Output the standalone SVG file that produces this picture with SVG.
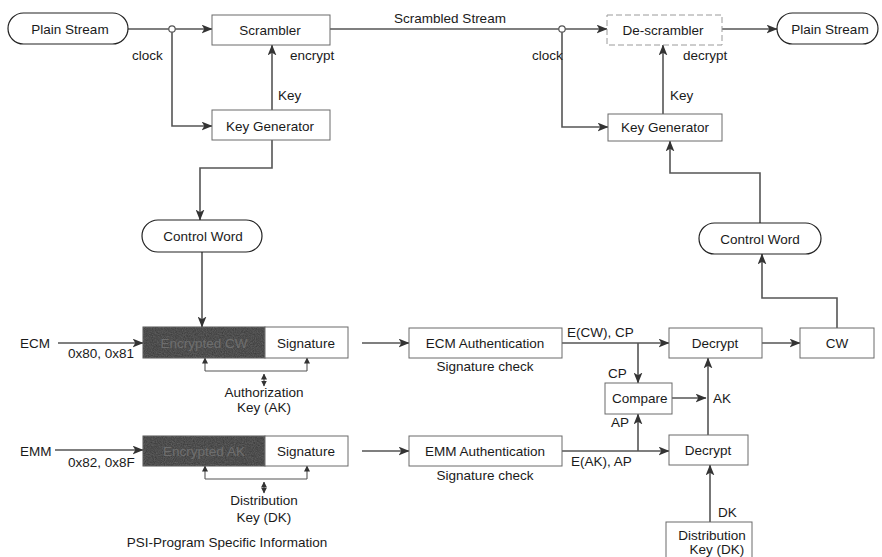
<svg xmlns="http://www.w3.org/2000/svg" width="882" height="557" viewBox="0 0 882 557">
  <defs>
    <marker id="arrow" viewBox="0 0 10 8" refX="9.5" refY="4" markerWidth="11" markerHeight="9" markerUnits="userSpaceOnUse" orient="auto">
      <path d="M0,0 L10,4 L0,8 L2.5,4 Z" fill="#333"/>
    </marker>
    <marker id="tick" viewBox="0 0 6 6" refX="5.5" refY="3" markerWidth="6" markerHeight="6" markerUnits="userSpaceOnUse" orient="auto-start-reverse">
      <path d="M0,0 L6,3 L0,6 Z" fill="#333"/>
    </marker>
    <filter id="grain" x="0" y="0" width="1" height="1">
      <feTurbulence type="fractalNoise" baseFrequency="0.9" numOctaves="2" seed="3" result="n"/>
      <feColorMatrix in="n" type="matrix" values="0 0 0 0 0.25  0 0 0 0 0.25  0 0 0 0 0.25  0 0 0 -1.2 1.1" result="g"/>
      <feComposite in="g" in2="SourceGraphic" operator="in"/>
    </filter>
  </defs>
  <style>
    text { font-family: "Liberation Sans", Arial, sans-serif; font-size: 13.5px; fill: #1a1a1a; }
    .c { text-anchor: middle; }
    .box { fill: #fff; stroke: #6a6a6a; stroke-width: 1; }
    .faint { fill: #fff; stroke: #9a9a9a; stroke-width: 1; stroke-dasharray: 6 3; }
    .pill { fill: #fff; stroke: #222; stroke-width: 1.2; }
    .dark { fill: #3a3a3a; stroke: #555; stroke-width: 1; }
    .darktext { fill: #6e6e6e; }
    .wire { fill: none; stroke: #555; stroke-width: 1.6; }
    .thin { fill: none; stroke: #555; stroke-width: 1.1; }
    .arr { marker-end: url(#arrow); }
    .tk { marker-end: url(#tick); }
    .tk2 { marker-start: url(#tick); marker-end: url(#tick); }
  </style>

  <rect width="882" height="557" fill="#fff"/>

  <!-- connectors -->
  <g id="connectors">
    <!-- scrambling side -->
    <path class="wire arr" d="M128,29 H212"/>
    <path class="wire arr" d="M330,29 H607"/>
    <path class="wire arr" d="M172,32 V126 H212"/>
    <path class="wire arr" d="M272,110 V45"/>
    <path class="wire arr" d="M272,140 V168 H200 V220"/>
    <path class="wire arr" d="M202,252 V327"/>
    <circle cx="172" cy="29" r="3.2" fill="#fff" stroke="#555" stroke-width="1.2"/>
    <!-- descrambling side -->
    <path class="wire arr" d="M722,29 H777"/>
    <path class="wire arr" d="M562,32 V127 H608"/>
    <path class="wire arr" d="M663,114 V45"/>
    <path class="wire arr" d="M760,223 V173 H670 V141"/>
    <path class="wire arr" d="M837,328 V298 H762 V254"/>
    <circle cx="562" cy="29" r="3.2" fill="#fff" stroke="#555" stroke-width="1.2"/>
    <!-- ECM path -->
    <path class="wire arr" d="M58,343 H143"/>
    <path class="wire arr" d="M362,343 H409"/>
    <path class="wire arr" d="M562,343 H669"/>
    <path class="wire arr" d="M638,343 V383"/>
    <path class="wire arr" d="M762,343 H800"/>
    <path class="thin tk" d="M205,371 V358"/>
    <path class="thin tk" d="M307,371 V358"/>
    <path class="thin" d="M205,371 H307"/>
    <path class="thin tk2" d="M264,374 V386"/>
    <!-- EMM path -->
    <path class="wire arr" d="M55,450 H143"/>
    <path class="wire arr" d="M362,451 H409"/>
    <path class="wire arr" d="M562,451 H669"/>
    <path class="wire arr" d="M638,451 V414"/>
    <path class="thin tk" d="M205,479 V466"/>
    <path class="thin tk" d="M307,479 V466"/>
    <path class="thin" d="M205,479 H307"/>
    <path class="thin tk2" d="M264,482 V493"/>
    <!-- key recovery -->
    <path class="wire arr" d="M672,398 H706"/>
    <path class="wire arr" d="M708,435 V358"/>
    <path class="wire arr" d="M710,522 V465"/>
  </g>

  <!-- connector labels -->
  <g id="labels">
    <text x="450" y="23" class="c">Scrambled Stream</text>
    <text x="132" y="60">clock</text>
    <text x="278" y="100">Key</text>
    <text x="290" y="60">encrypt</text>
    <text x="532" y="60">clock</text>
    <text x="670" y="100">Key</text>
    <text x="683" y="60">decrypt</text>
    <text x="20" y="348">ECM</text>
    <text x="68" y="358">0x80, 0x81</text>
    <text x="20" y="456">EMM</text>
    <text x="68" y="467">0x82, 0x8F</text>
    <text x="264" y="397" class="c">Authorization</text>
    <text x="264" y="412" class="c">Key (AK)</text>
    <text x="264" y="505" class="c">Distribution</text>
    <text x="264" y="522" class="c">Key (DK)</text>
    <text x="227" y="547" class="c">PSI-Program Specific Information</text>
    <text x="485" y="371" class="c">Signature check</text>
    <text x="485" y="480" class="c">Signature check</text>
    <text x="567" y="337">E(CW), CP</text>
    <text x="571" y="466">E(AK), AP</text>
    <text x="608" y="378">CP</text>
    <text x="611" y="427">AP</text>
    <text x="713" y="403">AK</text>
    <text x="718" y="517">DK</text>
  </g>

  <!-- nodes -->
  <g id="plain-stream-in">
    <rect class="pill" x="8" y="13" width="120" height="31" rx="15.5"/>
    <text x="70" y="34" class="c">Plain Stream</text>
  </g>
  <g id="scrambler">
    <rect class="box" x="212" y="15" width="118" height="30"/>
    <text x="270" y="35" class="c">Scrambler</text>
  </g>
  <g id="key-generator-tx">
    <rect class="box" x="212" y="110" width="118" height="30"/>
    <text x="270" y="131" class="c">Key Generator</text>
  </g>
  <g id="control-word-tx">
    <rect class="pill" x="142" y="220" width="120" height="32" rx="16"/>
    <text x="203" y="241" class="c">Control Word</text>
  </g>
  <g id="descrambler">
    <rect class="faint" x="607" y="15" width="115" height="30"/>
    <text x="663" y="35" class="c">De-scrambler</text>
  </g>
  <g id="plain-stream-out">
    <rect class="pill" x="777" y="13" width="101" height="31" rx="15.5"/>
    <text x="830" y="34" class="c">Plain Stream</text>
  </g>
  <g id="key-generator-rx">
    <rect class="box" x="608" y="114" width="114" height="27"/>
    <text x="665" y="132" class="c">Key Generator</text>
  </g>
  <g id="control-word-rx">
    <rect class="pill" x="699" y="223" width="122" height="31" rx="15.5"/>
    <text x="760" y="244" class="c">Control Word</text>
  </g>
  <g id="ecm-message">
    <rect class="dark" x="143" y="327" width="122" height="31"/>
    <rect x="143" y="327" width="122" height="31" fill="#000" filter="url(#grain)" opacity="0.5"/>
    <text x="204" y="348" class="c darktext">Encrypted CW</text>
    <rect class="box" x="265" y="327" width="83" height="31"/>
    <text x="306" y="348" class="c">Signature</text>
  </g>
  <g id="emm-message">
    <rect class="dark" x="143" y="436" width="122" height="30"/>
    <rect x="143" y="436" width="122" height="30" fill="#000" filter="url(#grain)" opacity="0.5"/>
    <text x="204" y="456" class="c darktext">Encrypted AK</text>
    <rect class="box" x="265" y="436" width="83" height="30"/>
    <text x="306" y="456" class="c">Signature</text>
  </g>
  <g id="ecm-authentication">
    <rect class="box" x="409" y="328" width="153" height="30"/>
    <text x="485" y="348" class="c">ECM Authentication</text>
  </g>
  <g id="emm-authentication">
    <rect class="box" x="409" y="436" width="153" height="30"/>
    <text x="485" y="456" class="c">EMM Authentication</text>
  </g>
  <g id="decrypt-cw">
    <rect class="box" x="669" y="328" width="93" height="30"/>
    <text x="715" y="348" class="c">Decrypt</text>
  </g>
  <g id="cw">
    <rect class="box" x="800" y="328" width="74" height="30"/>
    <text x="837" y="348" class="c">CW</text>
  </g>
  <g id="compare">
    <rect class="box" x="605" y="383" width="67" height="31"/>
    <text x="612" y="403">Compare</text>
  </g>
  <g id="decrypt-ak">
    <rect class="box" x="669" y="435" width="79" height="30"/>
    <text x="708" y="455" class="c">Decrypt</text>
  </g>
  <g id="distribution-key">
    <rect class="box" x="666" y="522" width="86" height="45"/>
    <text x="712" y="540" class="c">Distribution</text>
    <text x="717" y="554" class="c">Key (DK)</text>
  </g>
</svg>
